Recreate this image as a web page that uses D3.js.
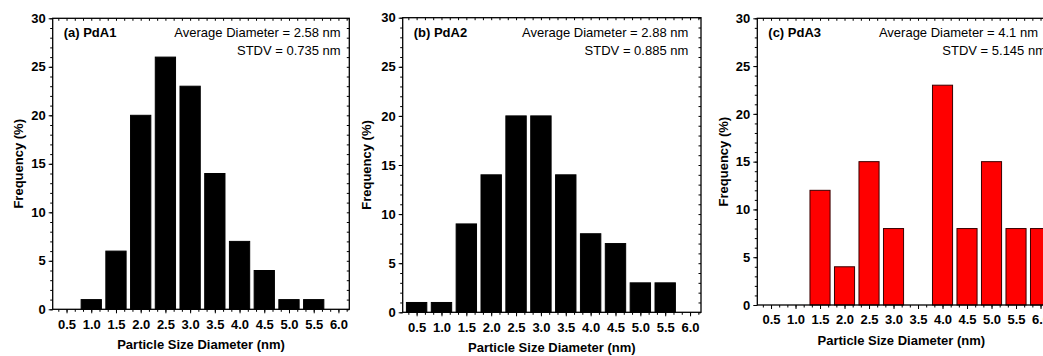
<!DOCTYPE html>
<head>
  <style>
    body { margin: 0; background: #fff; }
    text { font-family: "Liberation Sans", Arial, sans-serif; }
  </style>
  <title>Particle Size Distributions</title>
</head>
<body>
  <script src="https://cdn.jsdelivr.net/npm/d3@7"></script>
  <script>
    // data
    var sizes = [0.5, 1.0, 1.5, 2.0, 2.5, 3.0, 3.5, 4.0, 4.5, 5.0, 5.5, 6.0];
    var freqA = [0, 1, 6, 20, 26, 23, 14, 7, 4, 1, 1, 0];
    var freqB = [1, 1, 9, 14, 20, 20, 14, 8, 7, 3, 3, 0];
    var freqC = [0, 0, 12, 4, 15, 8, 0, 23, 8, 15, 8, 8];
    var yTicks = [0, 5, 10, 15, 20, 25, 30];
    var panelLabels = ["(a) PdA1", "(b) PdA2", "(c) PdA3"];
    var avgLabels = ["Average Diameter = 2.58 nm", "Average Diameter = 2.88 nm", "Average Diameter = 4.1 nm"];
    var stdvLabels = ["STDV = 0.735 nm", "STDV = 0.885 nm", "STDV = 5.145 nm"];

    // layout of each panel (pixels)
    var panels = [
      {freq: freqA, left: 52.7, right: 349.3, top: 18.3, bottom: 309.3, fill: "#000", stroke: "#000",
       ytitle: 17.5, avgX: 340.7, stdvX: 340.7},
      {freq: freqB, left: 402.7, right: 701, top: 17.7, bottom: 312.3, fill: "#000", stroke: "#000",
       ytitle: 366, avgX: 688.3, stdvX: 688.3},
      {freq: freqC, left: 757.3, right: 1051.3, top: 18.3, bottom: 305, fill: "#ff0000", stroke: "#3a0000",
       ytitle: 722.5, avgX: 1038, stdvX: 1046}
    ];

    var svg = d3.select("body").append("svg")
        .attr("width", 1043)
        .attr("height", 356);

    var xDomain = [0.22, 6.22];
    var barW = 0.41;

    panels.forEach(function(p, i) {
      var x = d3.scaleLinear().domain(xDomain).range([p.left, p.right]);
      var y = d3.scaleLinear().domain([0, 30]).range([p.bottom, p.top]);
      var g = svg.append("g");

      // bars
      g.selectAll("rect.bar")
        .data(sizes)
        .enter().append("rect")
          .attr("class", "bar")
          .attr("x", function(d) { return x(d - barW / 2); })
          .attr("width", function(d) { return x(d + barW / 2) - x(d - barW / 2); })
          .attr("y", function(d, j) { return y(p.freq[j]); })
          .attr("height", function(d, j) { return p.bottom - y(p.freq[j]); })
          .attr("fill", p.fill)
          .attr("stroke", p.stroke)
          .attr("stroke-width", 1);

      // minor tick positions
      var xMinor = d3.range(0, 40).map(function(k) { return 0.5 / 3 * k; })
          .filter(function(v) { return v >= xDomain[0] && v <= xDomain[1]; });
      var yMinor = d3.range(0, 31);

      // bottom axis
      var xAxis = d3.axisBottom(x).tickValues(sizes).tickFormat(d3.format(".1f")).tickSize(4).tickPadding(6);
      var gx = g.append("g").attr("transform", "translate(0," + p.bottom + ")").call(xAxis);
      g.append("g").attr("transform", "translate(0," + p.bottom + ")")
        .call(d3.axisBottom(x).tickValues(xMinor).tickFormat("").tickSize(2.5));

      // left axis
      var yAxis = d3.axisLeft(y).tickValues(yTicks).tickFormat(d3.format("d")).tickSize(4).tickPadding(3);
      var gy = g.append("g").attr("transform", "translate(" + p.left + ",0)").call(yAxis);
      g.append("g").attr("transform", "translate(" + p.left + ",0)")
        .call(d3.axisLeft(y).tickValues(yMinor).tickFormat("").tickSize(2.5));

      // mirrored ticks on top and right, pointing inward
      g.append("g").attr("transform", "translate(0," + p.top + ")")
        .call(d3.axisTop(x).tickValues(xMinor).tickFormat("").tickSize(-2.5));
      g.append("g").attr("transform", "translate(" + p.right + ",0)")
        .call(d3.axisRight(y).tickValues(yMinor).tickFormat("").tickSize(-2.5));

      g.selectAll(".domain").remove();
      g.selectAll(".tick line").attr("stroke", "#000").attr("stroke-width", 1);
      g.selectAll(".tick text")
        .attr("font-family", "'Liberation Sans', Arial, sans-serif")
        .attr("font-size", "13px")
        .attr("font-weight", "bold")
        .attr("fill", "#000");

      // frame
      g.append("rect")
        .attr("x", p.left).attr("y", p.top)
        .attr("width", p.right - p.left).attr("height", p.bottom - p.top)
        .attr("fill", "none").attr("stroke", "#000").attr("stroke-width", 1.3);

      // axis titles
      g.append("text")
        .attr("x", (p.left + p.right) / 2 - (i == 2 ? 3 : 0))
        .attr("y", p.bottom + 40)
        .attr("text-anchor", "middle")
        .attr("font-size", "13px").attr("font-weight", "bold")
        .text("Particle Size Diameter (nm)");

      g.append("text")
        .attr("transform", "translate(" + (p.ytitle + 5) + "," + ((p.top + p.bottom) / 2) + ") rotate(-90)")
        .attr("text-anchor", "middle")
        .attr("font-size", "13px").attr("font-weight", "bold")
        .text("Frequency (%)");

      // annotations
      g.append("text")
        .attr("x", p.left + 11).attr("y", p.top + 19)
        .attr("font-size", "13px").attr("font-weight", "bold")
        .text(panelLabels[i]);
      g.append("text")
        .attr("x", p.avgX).attr("y", p.top + 19)
        .attr("text-anchor", "end")
        .attr("font-size", "13px")
        .text(avgLabels[i]);
      g.append("text")
        .attr("x", p.stdvX).attr("y", p.top + 37)
        .attr("text-anchor", "end")
        .attr("font-size", "13px")
        .text(stdvLabels[i]);
    });
  </script>
</body>
